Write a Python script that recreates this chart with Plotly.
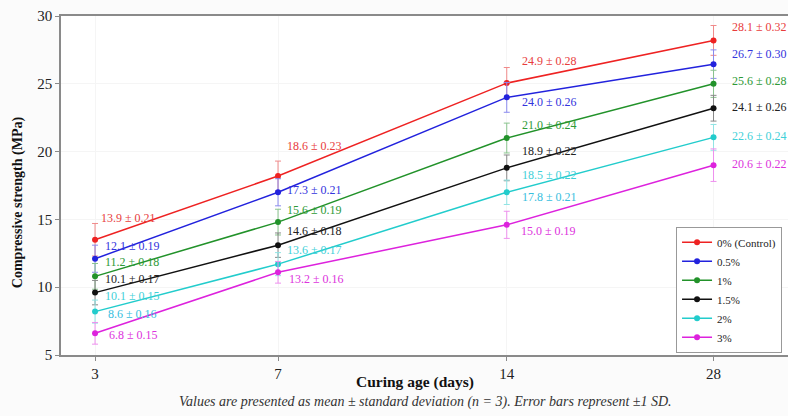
import plotly.graph_objects as go

# ---------------- data ----------------
days = ["3", "7", "14", "28"]
series_names = ["0% (Control)", "0.5%", "1%", "1.5%", "2%", "3%"]

strength_0 = [13.5, 18.2, 25.05, 28.2]
strength_05 = [12.1, 17.0, 24.0, 26.45]
strength_1 = [10.8, 14.8, 21.0, 25.0]
strength_15 = [9.6, 13.1, 18.8, 23.2]
strength_2 = [8.2, 11.7, 17.0, 21.05]
strength_3 = [6.6, 11.1, 14.6, 19.0]

err_0 = [1.2, 1.1, 1.15, 1.1]
err_05 = [1.0, 1.0, 1.1, 1.05]
err_1 = [0.95, 0.95, 1.1, 1.0]
err_15 = [0.9, 0.9, 0.95, 0.95]
err_2 = [0.85, 0.85, 0.9, 0.95]
err_3 = [0.8, 0.8, 1.0, 1.2]

labels_0 = ["13.9 ± 0.21", "18.6 ± 0.23", "24.9 ± 0.28", "28.1 ± 0.32"]
labels_05 = ["12.1 ± 0.19", "17.3 ± 0.21", "24.0 ± 0.26", "26.7 ± 0.30"]
labels_1 = ["11.2 ± 0.18", "15.6 ± 0.19", "21.0 ± 0.24", "25.6 ± 0.28"]
labels_15 = ["10.1 ± 0.17", "14.6 ± 0.18", "18.9 ± 0.22", "24.1 ± 0.26"]
labels_2 = ["10.1 ± 0.15", "13.6 ± 0.17", "18.5 ± 0.22", "22.6 ± 0.24"]
labels_2_extra = ["8.6 ± 0.16", None, "17.8 ± 0.21", None]
labels_3 = ["6.8 ± 0.15", "13.2 ± 0.16", "15.0 ± 0.19", "20.6 ± 0.22"]

# ---------------- layout / style ----------------
tick_positions = [0, 1, 2.25, 3.38]   # horizontal placement of the day categories

colors = ["#ee2222", "#2222dd", "#22922a", "#111111", "#22cccc", "#dd22dd"]
label_colors = ["#e83c3c", "#3333dd", "#2e9a36", "#222222", "#3fd0d8", "#dd33dd"]
err_colors = ["#f08a8a", "#8a8aee", "#8ac48e", "#888888", "#90e4e4", "#ee90ee"]

# label offsets in pixels (dx right, dy up) relative to each point
dx = [[4, 7, 13, 16], [8, 7, 13, 16], [8, 7, 13, 16], [8, 7, 13, 16], [8, 7, 13, 16], [12, 9, 12, 16]]
dy = [[22, 30, 22, 13], [13, 2, -5, 10], [14, 12, 13, 3], [14, 14, 17, 1], [16, 14, 17, 1], [-2, -7, -6, 1]]
dx_extra = [11, 0, 13, 0]
dy_extra = [-2, 0, -5, 0]

values = [strength_0, strength_05, strength_1, strength_15, strength_2, strength_3]
errors = [err_0, err_05, err_1, err_15, err_2, err_3]
labels = [labels_0, labels_05, labels_1, labels_15, labels_2, labels_3]

serif = "Liberation Serif, Times New Roman, serif"

fig = go.Figure()
for i, name in enumerate(series_names):
    fig.add_trace(go.Scatter(
        x=tick_positions, y=values[i], name=name, mode="lines+markers",
        line=dict(color=colors[i], width=1.5),
        marker=dict(color=colors[i], size=6),
        error_y=dict(type="data", array=errors[i], visible=True,
                     color=err_colors[i], thickness=1, width=3),
    ))

annotations = []
for i in range(len(series_names)):
    for j in range(len(days)):
        annotations.append(dict(
            x=tick_positions[j], y=values[i][j], text=labels[i][j],
            xanchor="left", yanchor="middle", showarrow=False,
            xshift=dx[i][j], yshift=dy[i][j],
            font=dict(family=serif, size=12, color=label_colors[i]),
        ))
for j in range(len(days)):
    if labels_2_extra[j]:
        annotations.append(dict(
            x=tick_positions[j], y=strength_2[j], text=labels_2_extra[j],
            xanchor="left", yanchor="middle", showarrow=False,
            xshift=dx_extra[j], yshift=dy_extra[j],
            font=dict(family=serif, size=12, color="#38bede"),
        ))

annotations.append(dict(
    x=-0.059, y=0.451, xref="paper", yref="paper", showarrow=False,
    text="<b>Compressive strength (MPa)</b>", textangle=-90,
    xanchor="center", yanchor="middle",
    font=dict(family=serif, size=14, color="#111111"),
))
annotations.append(dict(
    x=0.487, y=-0.08, xref="paper", yref="paper", showarrow=False,
    text="<b>Curing age (days)</b>", xanchor="center", yanchor="middle",
    font=dict(family=serif, size=15.5, color="#111111"),
))
annotations.append(dict(
    x=0.502, y=-0.138, xref="paper", yref="paper", showarrow=False,
    text="<i>Values are presented as mean ± standard deviation (n = 3). Error bars represent ±1 SD.</i>",
    xanchor="center", yanchor="middle",
    font=dict(family=serif, size=14, color="#333333"),
))

fig.update_layout(
    width=788, height=416,
    margin=dict(l=61, r=0, t=16, b=61),
    paper_bgcolor="#fbfbfb", plot_bgcolor="#ffffff",
    font=dict(family=serif, color="#222222"),
    showlegend=True,
    legend=dict(
        x=0.846, y=0.378, xanchor="left", yanchor="top",
        bgcolor="#ffffff", bordercolor="#999999", borderwidth=1,
        font=dict(family=serif, size=11, color="#222222"),
        tracegroupgap=0, itemwidth=30,
    ),
    annotations=annotations,
    xaxis=dict(
        range=[-0.186, 3.787], tickmode="array", tickvals=tick_positions, ticktext=days,
        showline=True, linecolor="#8a8a8a", linewidth=1.5, mirror=True,
        ticks="outside", ticklen=4, tickcolor="#8a8a8a",
        showgrid=True, gridcolor="#f5f5f5", zeroline=False,
        tickfont=dict(family=serif, size=15, color="#222222"),
    ),
    yaxis=dict(
        range=[5, 30], tickvals=[5, 10, 15, 20, 25, 30],
        showline=True, linecolor="#8a8a8a", linewidth=1.5,
        ticks="outside", ticklen=4, tickcolor="#8a8a8a",
        showgrid=True, gridcolor="#f5f5f5", zeroline=False,
        tickfont=dict(family=serif, size=15, color="#222222"),
    ),
)

fig.write_html("out.html")
